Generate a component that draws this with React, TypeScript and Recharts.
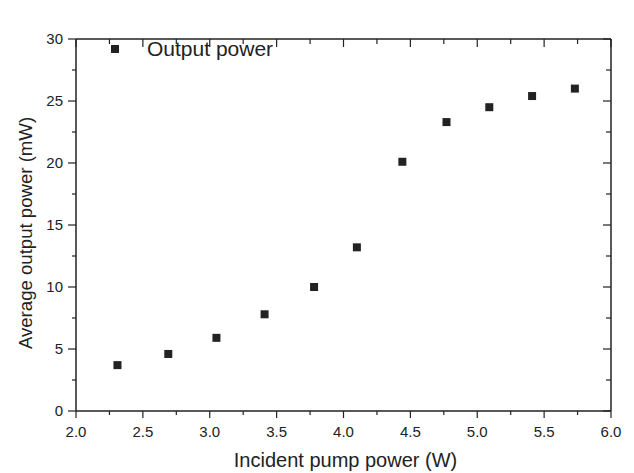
import { ScatterChart, Scatter, XAxis, YAxis, Legend, Label } from 'recharts';

const pumpPower = [2.31, 2.69, 3.05, 3.41, 3.78, 4.1, 4.44, 4.77, 5.09, 5.41, 5.73];
const outputPower = [3.7, 4.6, 5.9, 7.8, 10.0, 13.2, 20.1, 23.3, 24.5, 25.4, 26.0];
const xTicks = [2, 2.25, 2.5, 2.75, 3, 3.25, 3.5, 3.75, 4, 4.25, 4.5, 4.75, 5, 5.25, 5.5, 5.75, 6];
const yTicks = [0, 2.5, 5, 7.5, 10, 12.5, 15, 17.5, 20, 22.5, 25, 27.5, 30];

const data = pumpPower.map((x, i) => ({ x, y: outputPower[i] }));

const INK = '#222';
const FONT = '"Liberation Sans", Arial, sans-serif';

const isMajorX = (v: number) => Math.abs(v * 2 - Math.round(v * 2)) < 1e-6;
const isMajorY = (v: number) => Math.abs(v / 5 - Math.round(v / 5)) < 1e-6;

function BottomTick({ x, y, payload }: any) {
  const major = isMajorX(payload.value);
  return (
    <g>
      <line x1={x} y1={y} x2={x} y2={y + (major ? 7 : 4)} stroke={INK} strokeWidth={1.2} />
      {major && (
        <text x={x} y={y + 26} textAnchor="middle" fontSize={15} fill={INK} fontFamily={FONT}>
          {payload.value.toFixed(1)}
        </text>
      )}
    </g>
  );
}

function TopTick({ x, y, payload }: any) {
  const major = isMajorX(payload.value);
  return <line x1={x} y1={y} x2={x} y2={y + (major ? 8 : 5)} stroke={INK} strokeWidth={1.2} />;
}

function LeftTick({ x, y, payload }: any) {
  const major = isMajorY(payload.value);
  return (
    <g>
      <line x1={x} y1={y} x2={x - (major ? 8 : 4)} y2={y} stroke={INK} strokeWidth={1.2} />
      {major && (
        <text x={x - 13} y={y + 5} textAnchor="end" fontSize={15} fill={INK} fontFamily={FONT}>
          {payload.value}
        </text>
      )}
    </g>
  );
}

function RightTick({ x, y, payload }: any) {
  const major = isMajorY(payload.value);
  return <line x1={x} y1={y} x2={x - (major ? 8 : 5)} y2={y} stroke={INK} strokeWidth={1.2} />;
}

function SquareDot({ cx, cy }: any) {
  return <rect x={cx - 4} y={cy - 4} width={8} height={8} fill={INK} />;
}

function YTitle({ viewBox }: any) {
  const cx = viewBox.x + 25;
  const cy = viewBox.y + viewBox.height / 2 + 8;
  return (
    <text
      x={cx}
      y={cy}
      transform={`rotate(-90 ${cx} ${cy})`}
      textAnchor="middle"
      dominantBaseline="central"
      fontSize={18.6}
      fill={INK}
      fontFamily={FONT}
    >
      Average output power (mW)
    </text>
  );
}

function XTitle({ viewBox }: any) {
  return (
    <text
      x={viewBox.x + viewBox.width / 2 + 2}
      y={viewBox.y + 56}
      textAnchor="middle"
      fontSize={20}
      fill={INK}
      fontFamily={FONT}
    >
      Incident pump power (W)
    </text>
  );
}

function LegendBox() {
  return (
    <div style={{ display: 'flex', alignItems: 'center', fontFamily: FONT, fontSize: 21, color: INK, whiteSpace: 'nowrap' }}>
      <span style={{ display: 'inline-block', flex: 'none', width: 8, height: 8, background: INK, marginRight: 28 }} />
      <span>Output power</span>
    </div>
  );
}

export default function App() {
  return (
    <div style={{ position: 'absolute', left: 0, top: 0, width: 634, height: 473, background: '#fff' }}>
      <ScatterChart width={634} height={473} margin={{ top: 14, right: 22, bottom: 0, left: 0 }}>
        <XAxis
          xAxisId="b"
          type="number"
          dataKey="x"
          domain={[2, 6]}
          ticks={xTicks}
          interval={0}
          height={62}
          tickSize={0}
          tickMargin={0}
          tickLine={false}
          tick={<BottomTick />}
          axisLine={{ stroke: INK, strokeWidth: 1.5 }}
          allowDataOverflow
        >
          <Label content={<XTitle />} />
        </XAxis>
        <XAxis
          xAxisId="t"
          orientation="top"
          type="number"
          dataKey="x"
          domain={[2, 6]}
          ticks={xTicks}
          interval={0}
          height={1}
          tickSize={0}
          tickMargin={0}
          tickLine={false}
          tick={<TopTick />}
          axisLine={{ stroke: INK, strokeWidth: 1.5 }}
          allowDataOverflow
        />
        <YAxis
          yAxisId="l"
          type="number"
          dataKey="y"
          domain={[0, 30]}
          ticks={yTicks}
          interval={0}
          width={76}
          tickSize={0}
          tickMargin={0}
          tickLine={false}
          tick={<LeftTick />}
          axisLine={{ stroke: INK, strokeWidth: 1.5 }}
          allowDataOverflow
        >
          <Label content={<YTitle />} />
        </YAxis>
        <YAxis
          yAxisId="r"
          orientation="right"
          type="number"
          dataKey="y"
          domain={[0, 30]}
          ticks={yTicks}
          interval={0}
          width={1}
          tickSize={0}
          tickMargin={0}
          tickLine={false}
          tick={<RightTick />}
          axisLine={{ stroke: INK, strokeWidth: 1.5 }}
          allowDataOverflow
        />
        <Legend
          content={<LegendBox />}
          verticalAlign="top"
          align="left"
          wrapperStyle={{ top: 37, left: 111, width: 'auto' }}
        />
        <Scatter
          name="Output power"
          data={data}
          xAxisId="b"
          yAxisId="l"
          shape={<SquareDot />}
          isAnimationActive={false}
        />
        <Scatter
          name="frame"
          data={data}
          xAxisId="t"
          yAxisId="r"
          shape={() => null}
          legendType="none"
          isAnimationActive={false}
        />
      </ScatterChart>
    </div>
  );
}
